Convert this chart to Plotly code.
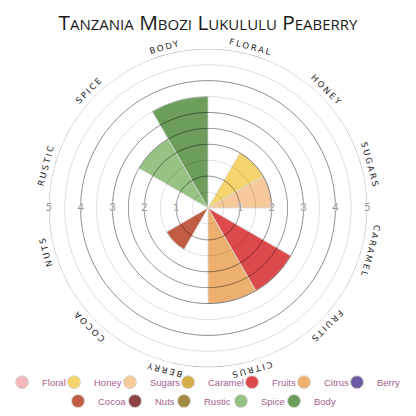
import numpy as np
import plotly.graph_objects as go

# flavour wheel data
flavors = ["Floral", "Honey", "Sugars", "Caramel", "Fruits", "Citrus",
           "Berry", "Cocoa", "Nuts", "Rustic", "Spice", "Body"]
scores = [0, 2, 2, 0, 3, 3, 0, 1.5, 0, 0, 2.5, 3.5]
colors = ["#f2b8ba", "#f5d46c", "#f7c899", "#d4ae48", "#dc4a4b", "#eeb06f",
          "#6c5ba1", "#c15d45", "#8e4343", "#a38a42", "#96c383", "#6c9d5b"]
ring_values = [0.5, 1, 1.5, 2, 2.5, 3, 3.5, 4, 4.5, 5]
ring_alpha = [0.13, 0.45, 0.13, 0.45, 0.42, 0.45, 0.13, 0.45, 0.13, 0.38]
tick_values = [1, 2, 3, 4, 5]
legend_widths = [13, 17, 19, 25, 13, 14, 24, 18, 10, 18, 14, 23]

# the page adds an 8px body margin, so the figure is 408px
W = H = 408
cx, cy, R = 200, 207, 160   # wheel centre (px from left / bottom) and radius
dom_x = [(cx - R) / W, (cx + R) / W]
dom_y = [(cy - R) / H, (cy + R) / H]

fig = go.Figure()

fig.add_trace(go.Barpolar(
    r=scores, theta=flavors, subplot="polar", showlegend=False,
    marker=dict(color=colors, line=dict(color="#d9d9d9", width=0.8)),
))

# rings drawn above the bars (second polar on top)
circle = np.linspace(0, 360, 361)
for rv, a in zip(ring_values, ring_alpha):
    fig.add_trace(go.Scatterpolar(
        r=[rv] * len(circle), theta=circle, mode="lines", subplot="polar2",
        line=dict(color=f"rgba(0,0,0,{a})", width=1),
        showlegend=False, hoverinfo="skip",
    ))

fig.add_trace(go.Scatterpolar(
    r=tick_values * 2, theta=[90] * 5 + [270] * 5, mode="text",
    text=[str(t) for t in tick_values] * 2, subplot="polar2",
    textfont=dict(family="Lato", size=11, color="#949494",
                  shadow="0px 0px 2px #fff, 0px 0px 2px #fff"),
    showlegend=False, hoverinfo="skip",
))

# legend entries (round swatches)
for i, (name, col) in enumerate(zip(flavors, colors)):
    fig.add_trace(go.Scatterpolar(
        r=[None], theta=[None], mode="markers", name=name, subplot="polar2",
        marker=dict(size=13, color=col, line=dict(color="#d8d8d8", width=1)),
        legend="legend" if i < 7 else "legend2",
        legendwidth=legend_widths[i],
    ))

# category labels around the rim
for i, name in enumerate(flavors):
    ang = 15 + 30 * i
    rad = np.radians(ang)
    fig.add_annotation(
        x=(cx + (R + 8) * np.sin(rad)) / W, y=(cy + (R + 8) * np.cos(rad)) / H,
        xref="paper", yref="paper", showarrow=False,
        text=f'<span style="letter-spacing:2px">{name.upper()}</span>',
        textangle=ang if ang <= 180 else ang - 360,
        font=dict(family="DejaVu Sans", size=8.5, color="#1e1e1e"),
        xanchor="center", yanchor="middle",
    )

polar_common = dict(domain=dict(x=dom_x, y=dom_y), hole=0)
legend_font = dict(family="Liberation Sans", size=9.5, color="#a4628c")
fig.update_layout(
    width=W, height=H,
    margin=dict(l=0, r=0, t=0, b=0),
    paper_bgcolor="white",
    title=dict(text="Tanzania Mbozi Lukululu Peaberry", x=cx / W,
               xanchor="center", y=1 - 15 / H, yanchor="middle",
               font=dict(family="Open Sans", size=20.8, color="#1a1a1a",
                         variant="small-caps")),
    polar=dict(
        **polar_common, bgcolor="white", bargap=0,
        angularaxis=dict(rotation=75, direction="clockwise", visible=False,
                         showgrid=False),
        radialaxis=dict(range=[0, 5], visible=False, showgrid=False),
    ),
    polar2=dict(
        **polar_common, bgcolor="rgba(0,0,0,0)",
        angularaxis=dict(type="linear", rotation=90, direction="clockwise",
                         visible=False, showgrid=False),
        radialaxis=dict(range=[0, 5], visible=False, showgrid=False),
    ),
    legend=dict(orientation="h", x=0, xanchor="left", y=1 - 376 / H,
                yanchor="middle", font=legend_font, indentation=-6,
                bgcolor="rgba(0,0,0,0)"),
    legend2=dict(orientation="h", x=56 / W, xanchor="left", y=1 - 395 / H,
                 yanchor="middle", font=legend_font, indentation=-6,
                 bgcolor="rgba(0,0,0,0)"),
)

fig.write_html("out.html")
